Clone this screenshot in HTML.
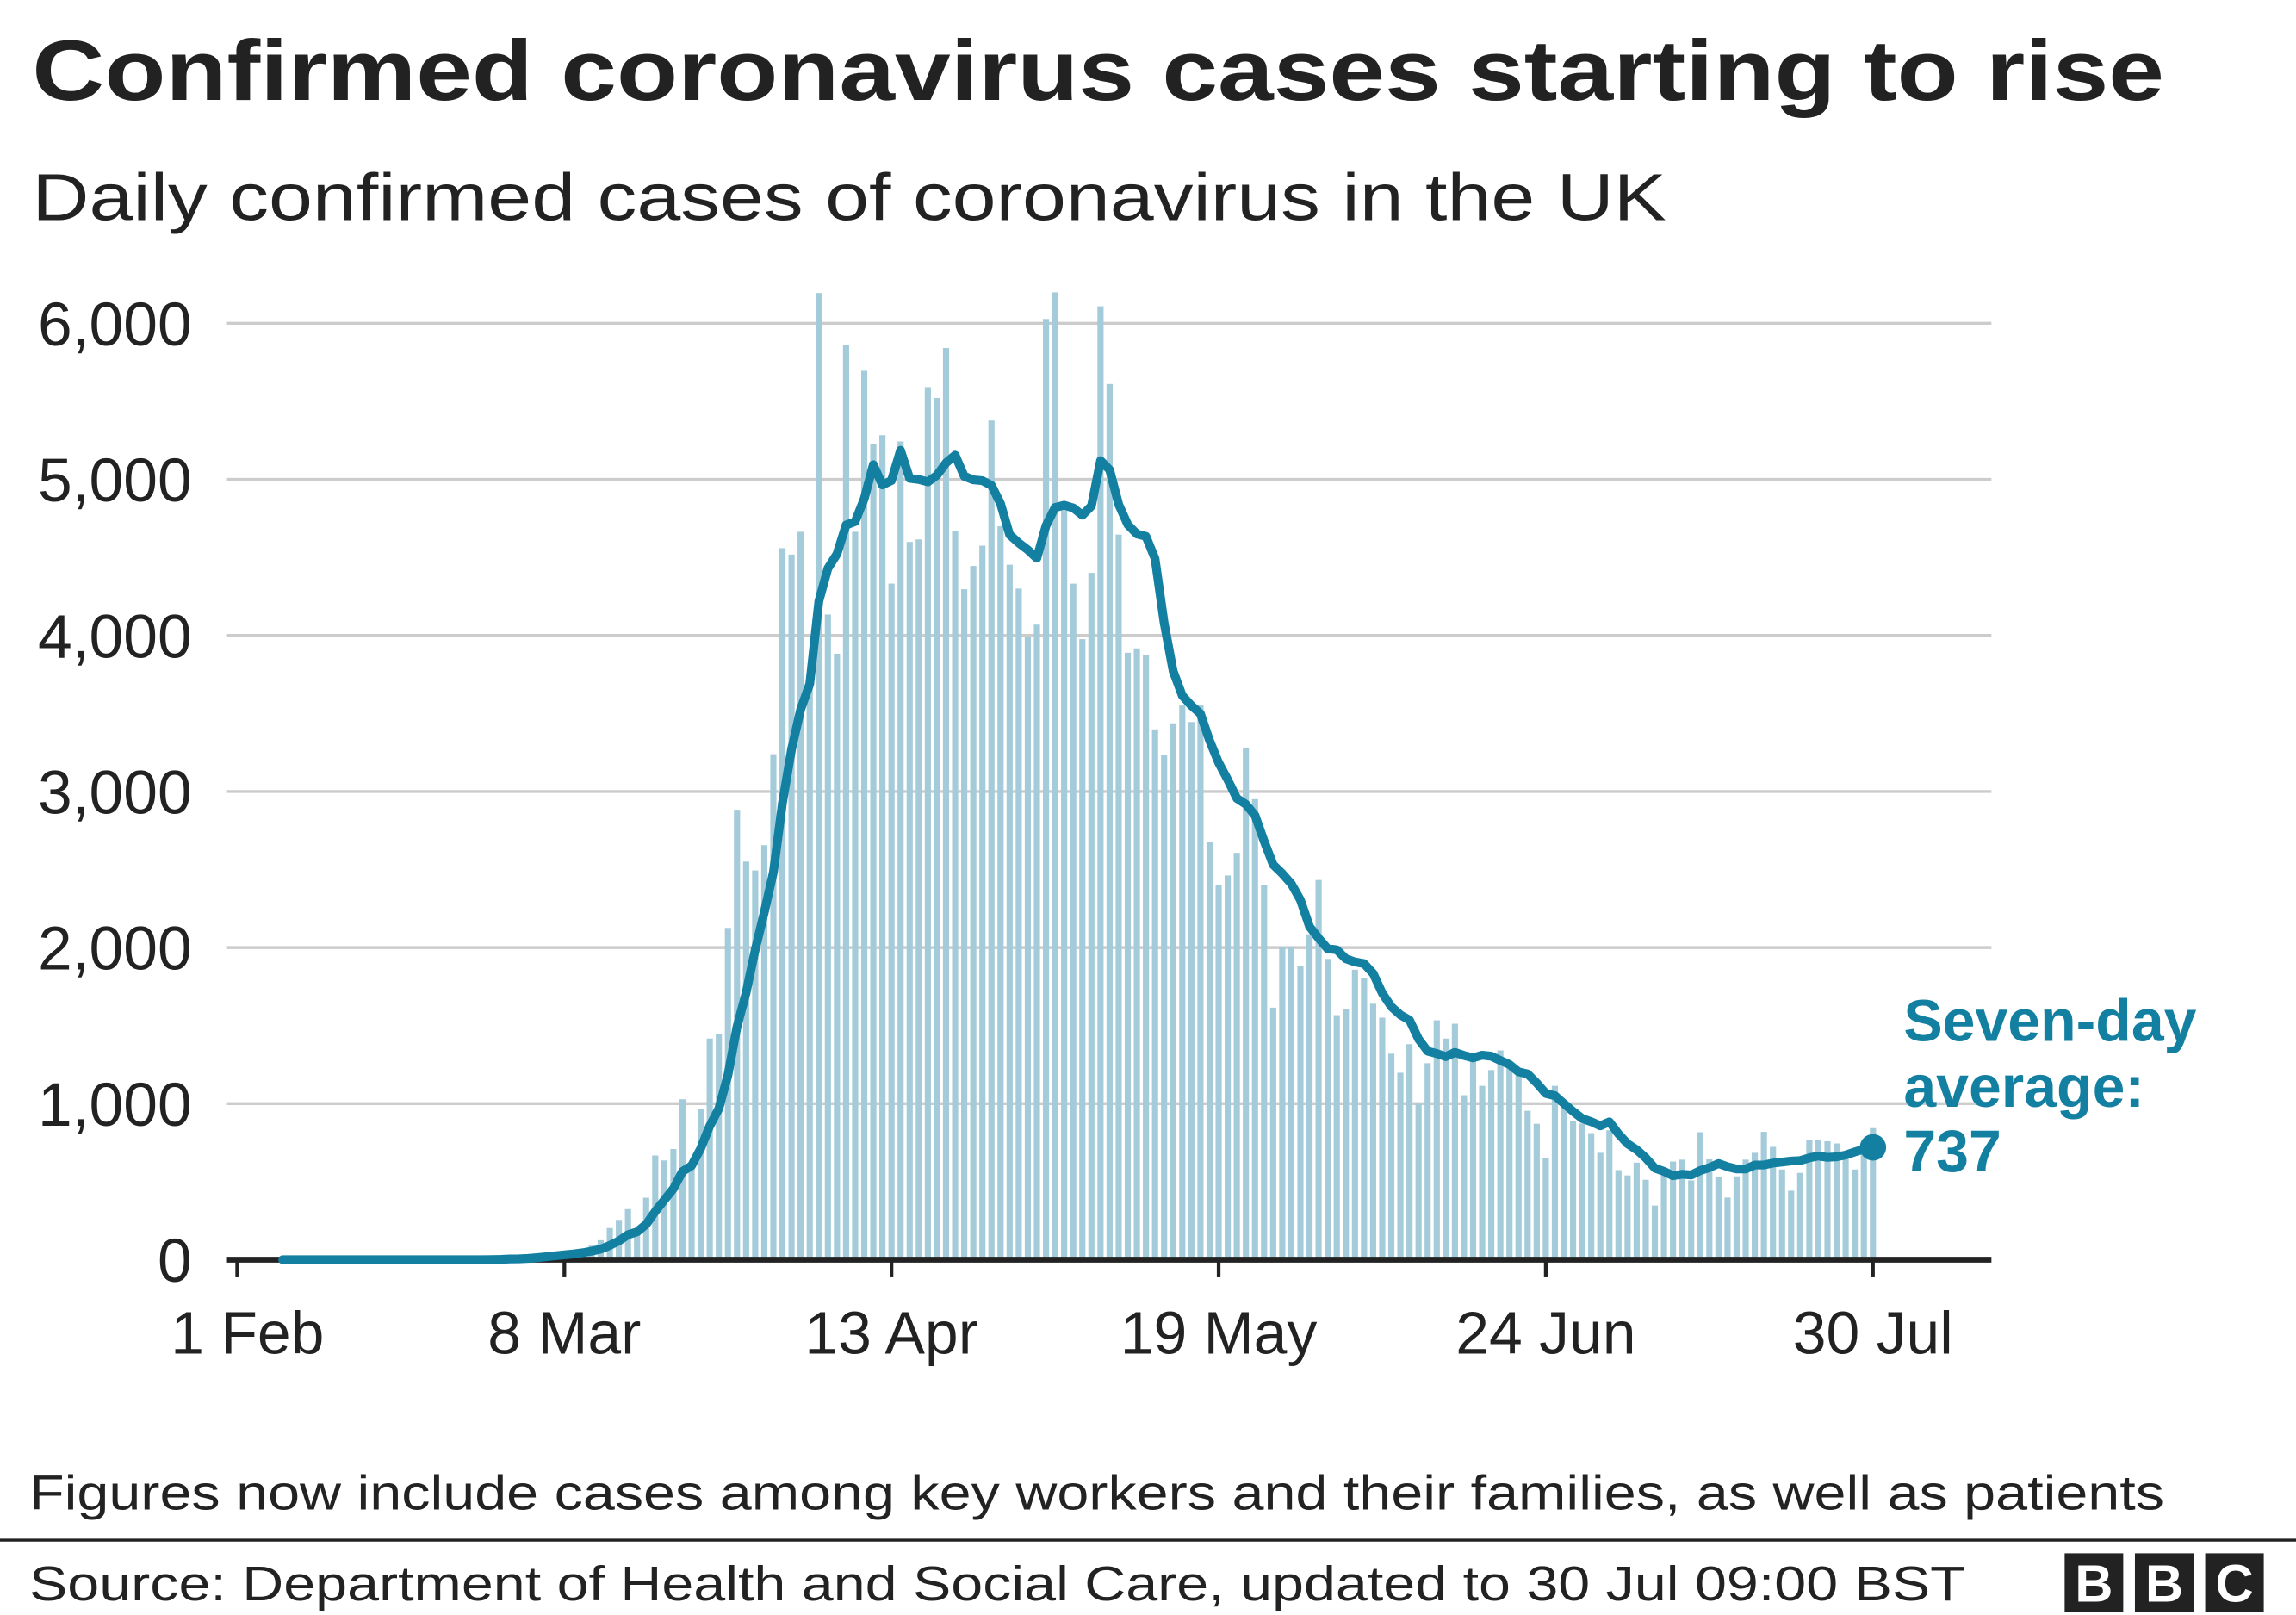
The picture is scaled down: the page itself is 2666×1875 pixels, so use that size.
<!DOCTYPE html>
<html><head><meta charset="utf-8"><style>
html,body{margin:0;padding:0;background:#fff;}
svg{display:block;}
text{font-family:"Liberation Sans",Arial,sans-serif;}
</style></head><body>
<svg id="chart" width="2666" height="1875" viewBox="0 0 1568 1100" preserveAspectRatio="none" xmlns="http://www.w3.org/2000/svg">
<text x="22" y="68" font-size="58" font-weight="bold" fill="#222" textLength="1456" lengthAdjust="spacingAndGlyphs">Confirmed coronavirus cases starting to rise</text>
<text x="22" y="150" font-size="45" fill="#222" textLength="1116" lengthAdjust="spacingAndGlyphs">Daily confirmed cases of coronavirus in the UK</text>
<g id="grid"></g>
<g id="bars"></g>
<g id="axes"></g>
<g id="avg"></g>
<g font-size="40" font-weight="bold" fill="#1380A1">
<text x="1300" y="709">Seven-day</text>
<text x="1300" y="754">average:</text>
<text x="1300" y="798">737</text>
</g>
<text x="20" y="1028" font-size="33" fill="#222" textLength="1458" lengthAdjust="spacingAndGlyphs">Figures now include cases among key workers and their families, as well as patients</text>
<line x1="0" y1="1049" x2="1568" y2="1049" stroke="#222" stroke-width="2"/>
<text x="20" y="1090" font-size="33" fill="#222" textLength="1322" lengthAdjust="spacingAndGlyphs">Source: Department of Health and Social Care, updated to 30 Jul 09:00 BST</text>
<g>
<rect x="1410" y="1058" width="40" height="40" fill="#222"/>
<rect x="1458" y="1058" width="40" height="40" fill="#222"/>
<rect x="1506" y="1058" width="40" height="40" fill="#222"/>
<text x="1430" y="1091" font-size="36" font-weight="bold" fill="#fff" text-anchor="middle">B</text>
<text x="1478" y="1091" font-size="36" font-weight="bold" fill="#fff" text-anchor="middle">B</text>
<text x="1526" y="1091" font-size="36" font-weight="bold" fill="#fff" text-anchor="middle">C</text>
</g>
</svg>
<script>
// daily cases, day 0 = 1 Feb, day 180 = 30 Jul
const dailyCases = [
0,0,0,0,0,0,0,0,0,0,
0,0,0,0,0,0,0,0,0,0,
0,0,0,0,0,0,0,0,5,10,
15,10,20,30,40,50,50,60,60,90,
125,203,255,324,195,397,668,636,709,1028,
580,964,1417,1445,2126,2883,2551,2494,2656,3239,
4559,4518,4664,3700,6194,4134,3883,5862,4664,5696,
5227,5283,4332,5243,4599,4615,5591,5522,5842,4672,
4296,4445,4575,5377,4700,4453,4300,3988,4069,6028,
6198,4802,4332,3976,4401,6109,5611,4646,3889,3917,
3872,3398,3235,3437,3551,3445,3551,2676,2401,2462,
2607,3279,2951,2401,1615,2004,2004,1879,2085,2433,
1927,1567,1607,1858,1802,1640,1551,1320,1198,1381,
1000,1259,1534,1417,1512,1054,1280,1114,1215,1341,
1240,1185,954,871,651,1114,985,888,873,811,
685,829,574,540,622,512,347,542,629,641,
508,817,643,530,398,534,641,685,819,723,
578,442,556,767,767,759,745,662,578,683,843];
const yTicks = [0,1000,2000,3000,4000,5000,6000];
const yTickLabels = ["0","1,000","2,000","3,000","4,000","5,000","6,000"];
const xTickDays = [0,36,72,108,144,180];
const xTickLabels = ["1 Feb","8 Mar","13 Apr","19 May","24 Jun","30 Jul"];

const NS="http://www.w3.org/2000/svg";
const X0=162, DX=6.206, Y0=858, PER=0.1063;
function xs(d){return X0+DX*d;}
function ys(v){return Y0-v*PER;}
function mk(tag,attrs,parent){const e=document.createElementNS(NS,tag);for(const k in attrs)e.setAttribute(k,attrs[k]);parent.appendChild(e);return e;}

const grid=document.getElementById('grid');
yTicks.forEach((t,i)=>{
  if(t>0){const l=mk('line',{x1:155,x2:1360,y1:ys(t),y2:ys(t),stroke:'#cccccc','stroke-width':2},grid);
  
  }
  const tx=mk('text',{x:131,y:ys(t)+15,'font-size':42,fill:'#222','text-anchor':'end'},grid);
  tx.textContent=yTickLabels[i];
  
  
});

const bars=document.getElementById('bars');
dailyCases.forEach((v,d)=>{
  if(v<=0)return;
  const r=mk('rect',{x:xs(d)-2.1,y:ys(v),width:4.2,height:v*PER,fill:'#a3cbd9'},bars);
  
  
});

const axes=document.getElementById('axes');
const base=mk('line',{x1:155,x2:1360,y1:Y0,y2:Y0,stroke:'#222','stroke-width':4},axes);


xTickDays.forEach((d,i)=>{
  const t=mk('line',{x1:xs(d),x2:xs(d),y1:Y0,y2:Y0+12,stroke:'#222','stroke-width':2.5},axes);
  
  
  const tx=mk('text',{x:xs(d)+(i===0?7:0),y:922,'font-size':41,fill:'#222','text-anchor':'middle'},axes);
  tx.textContent=xTickLabels[i];
  
  
});

// trailing seven-day average derived from dailyCases
const avg=document.getElementById('avg');
let pts=[];
for(let d=5;d<dailyCases.length;d++){
  let s=0;for(let k=Math.max(0,d-6);k<=d;k++){s+=dailyCases[k];}
  pts.push(xs(d).toFixed(1)+','+ys(s/7).toFixed(1));
}
const pl=mk('polyline',{points:pts.join(' '),fill:'none',stroke:'#1380A1','stroke-width':6,'stroke-linejoin':'round','stroke-linecap':'round'},avg);


const last=pts[pts.length-1].split(',');
const dot=mk('circle',{cx:last[0],cy:last[1],r:9,fill:'#1380A1'},avg);


</script>
</body></html>
